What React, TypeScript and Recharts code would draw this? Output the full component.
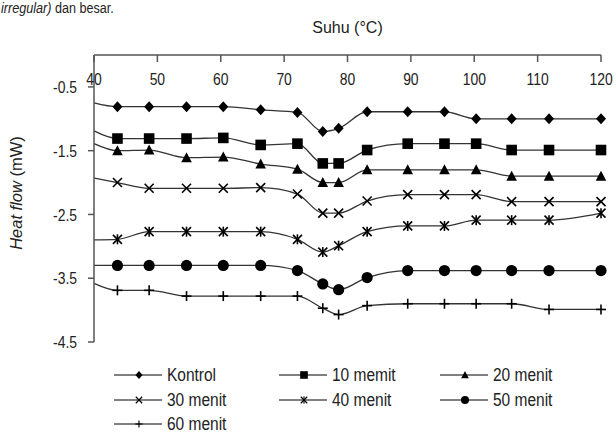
import React from "react";
import { LineChart, Line, XAxis, YAxis, Label } from "recharts";

// Suhu (°C) – posisi titik pengukuran
const temps = [40, 43.7, 48.7, 54.6, 60.4, 66.3, 72.1, 76.1, 78.6, 83.1, 89.5, 95.3, 100.3, 105.9, 111.8, 120];

// Heat flow (mW) per perlakuan
const kontrol = [-0.75, -0.81, -0.81, -0.81, -0.81, -0.86, -0.9, -1.2, -1.15, -0.89, -0.89, -0.89, -1.0, -1.0, -1.0, -1.0];
const menit10 = [-1.19, -1.31, -1.31, -1.31, -1.3, -1.41, -1.39, -1.7, -1.7, -1.49, -1.39, -1.39, -1.39, -1.49, -1.49, -1.49];
const menit20 = [-1.39, -1.5, -1.49, -1.61, -1.6, -1.71, -1.79, -2.0, -2.0, -1.8, -1.8, -1.8, -1.8, -1.9, -1.9, -1.9];
const menit30 = [-1.93, -2.0, -2.09, -2.09, -2.09, -2.08, -2.18, -2.48, -2.48, -2.29, -2.19, -2.19, -2.19, -2.3, -2.3, -2.3];
const menit40 = [-2.9, -2.89, -2.77, -2.77, -2.77, -2.77, -2.89, -3.09, -2.99, -2.77, -2.68, -2.68, -2.59, -2.59, -2.59, -2.48];
const menit50 = [-3.3, -3.3, -3.3, -3.3, -3.3, -3.3, -3.38, -3.59, -3.68, -3.49, -3.38, -3.38, -3.38, -3.38, -3.38, -3.38];
const menit60 = [-3.58, -3.69, -3.69, -3.78, -3.78, -3.78, -3.78, -3.97, -4.07, -3.93, -3.9, -3.9, -3.9, -3.9, -3.99, -3.99];

const xTicks = [40, 50, 60, 70, 80, 90, 100, 110, 120];
const yTicks = [-4.5, -3.5, -2.5, -1.5, -0.5];

const seriesList = [
  { key: "kontrol", name: "Kontrol", values: kontrol, shape: "diamond" },
  { key: "m10", name: "10 memit", values: menit10, shape: "square" },
  { key: "m20", name: "20 menit", values: menit20, shape: "triangle" },
  { key: "m30", name: "30 menit", values: menit30, shape: "cross" },
  { key: "m40", name: "40 menit", values: menit40, shape: "star" },
  { key: "m50", name: "50 menit", values: menit50, shape: "circle" },
  { key: "m60", name: "60 menit", values: menit60, shape: "plus" },
];

const data = temps.map((t, i) => {
  const row: Record<string, number> = { t };
  seriesList.forEach((s) => (row[s.key] = s.values[i]));
  return row;
});

const FONT = "'Liberation Sans', Arial, sans-serif";
const INK = "#000";
const AXIS = "#555";
const TXT = "#222";
const NARROW = 0.82; // huruf agak sempit seperti Arial Narrow

function Marker({ shape, cx, cy, s = 1 }: { shape: string; cx: number; cy: number; s?: number }) {
  switch (shape) {
    case "diamond":
      return <polygon points={`${cx},${cy - 5.5 * s} ${cx + 5 * s},${cy} ${cx},${cy + 5.5 * s} ${cx - 5 * s},${cy}`} fill={INK} />;
    case "square":
      return <rect x={cx - 5.3 * s} y={cy - 5.3 * s} width={10.6 * s} height={10.6 * s} fill={INK} />;
    case "triangle":
      return <polygon points={`${cx},${cy - 5.5 * s} ${cx + 5.3 * s},${cy + 4.5 * s} ${cx - 5.3 * s},${cy + 4.5 * s}`} fill={INK} />;
    case "cross":
      return (
        <g stroke={INK} strokeWidth={1.6 * Math.max(s, 0.7)}>
          <line x1={cx - 4.5 * s} y1={cy - 4.5 * s} x2={cx + 4.5 * s} y2={cy + 4.5 * s} />
          <line x1={cx - 4.5 * s} y1={cy + 4.5 * s} x2={cx + 4.5 * s} y2={cy - 4.5 * s} />
        </g>
      );
    case "star":
      return (
        <g stroke={INK} strokeWidth={1.6 * Math.max(s, 0.7)}>
          <line x1={cx - 4.5 * s} y1={cy - 4.5 * s} x2={cx + 4.5 * s} y2={cy + 4.5 * s} />
          <line x1={cx - 4.5 * s} y1={cy + 4.5 * s} x2={cx + 4.5 * s} y2={cy - 4.5 * s} />
          <line x1={cx} y1={cy - 5 * s} x2={cx} y2={cy + 5 * s} />
        </g>
      );
    case "circle":
      return <circle cx={cx} cy={cy} r={5.6 * s} fill={INK} />;
    case "plus":
      return (
        <g stroke={INK} strokeWidth={1.6 * Math.max(s, 0.7)}>
          <line x1={cx - 5 * s} y1={cy} x2={cx + 5 * s} y2={cy} />
          <line x1={cx} y1={cy - 5 * s} x2={cx} y2={cy + 5 * s} />
        </g>
      );
  }
  return <g />;
}

const makeDot = (shape: string) => (props: any) => {
  const { cx, cy, index } = props;
  // titik pertama (40 °C) tanpa penanda
  if (index === 0 || cx == null) return <g key={`d-${shape}-${index}`} />;
  return (
    <g key={`d-${shape}-${index}`}>
      <Marker shape={shape} cx={cx} cy={cy} />
    </g>
  );
};

const XTick = (props: any) => {
  const { x, y, payload } = props;
  return (
    <text
      transform={`translate(${x},${y}) scale(${NARROW},1)`}
      textAnchor="middle"
      dy="0.71em"
      fontFamily={FONT}
      fontSize={17}
      fill={TXT}
    >
      {payload.value}
    </text>
  );
};

const YTick = (props: any) => {
  const { x, y, payload } = props;
  return (
    <text
      transform={`translate(${x},${y}) scale(${NARROW},1)`}
      textAnchor="end"
      dy="0.36em"
      fontFamily={FONT}
      fontSize={17}
      fill={TXT}
    >
      {Number(payload.value).toFixed(1)}
    </text>
  );
};

const TitleLabel = (props: any) => {
  const vb = props.viewBox || {};
  return (
    <text x={vb.x + vb.width / 2} y={33} textAnchor="middle" fontFamily={FONT} fontSize={16} fill={TXT}>
      Suhu (°C)
    </text>
  );
};

const YLabel = () => {
  const cy = 193;
  const cx = 22;
  return (
    <text
      x={cx}
      y={cy}
      textAnchor="middle"
      transform={`rotate(-90 ${cx} ${cy})`}
      fontFamily={FONT}
      fontSize={16.5}
      fill={TXT}
    >
      <tspan fontStyle="italic">Heat flow</tspan>
      <tspan> (mW)</tspan>
    </text>
  );
};

function LegendBox() {
  const cols = [114, 279, 440];
  return (
    <div style={{ position: "absolute", left: 0, top: 363, width: 616, fontFamily: FONT, fontSize: 18, color: TXT }}>
      {seriesList.map((s, i) => {
        const col = i % 3;
        const row = Math.floor(i / 3);
        return (
          <div
            key={s.key}
            style={{ position: "absolute", left: cols[col], top: row * 24.5, height: 24.5, display: "flex", alignItems: "center" }}
          >
            <svg width={48} height={14} style={{ display: "block" }}>
              <line x1={0} y1={7} x2={48} y2={7} stroke={INK} strokeWidth={1} />
              <Marker shape={s.shape} cx={25} cy={7} s={0.72} />
            </svg>
            <span
              style={{
                marginLeft: 5,
                whiteSpace: "nowrap",
                display: "inline-block",
                transform: "scaleX(0.86)",
                transformOrigin: "left center",
                lineHeight: "20px",
              }}
            >
              {s.name}
            </span>
          </div>
        );
      })}
    </div>
  );
}

export default function App() {
  return (
    <div style={{ position: "absolute", left: 0, top: 0, width: 616, height: 433, background: "#fff", overflow: "hidden" }}>
      <div
        style={{
          position: "absolute",
          left: 1,
          top: 0,
          fontFamily: FONT,
          fontSize: 14,
          lineHeight: "16px",
          color: TXT,
          whiteSpace: "nowrap",
          transform: "scaleX(0.9)",
          transformOrigin: "left top",
        }}
      >
        <i>irregular)</i> dan besar.
      </div>
      <LineChart width={616} height={433} data={data} margin={{ top: 55, right: 15, left: 34, bottom: 91 }}>
        <XAxis
          dataKey="t"
          type="number"
          orientation="top"
          mirror
          domain={[40, 120]}
          ticks={xTicks}
          interval={0}
          tickSize={7}
          tickMargin={11}
          stroke={AXIS}
          strokeWidth={1.5}
          tick={<XTick />}
        >
          <Label content={TitleLabel} />
        </XAxis>
        <YAxis
          type="number"
          domain={[-4.5, 0]}
          ticks={yTicks}
          interval={0}
          width={60}
          tickSize={6}
          tickMargin={11}
          stroke={AXIS}
          strokeWidth={1.5}
          tick={<YTick />}
        >
          <Label content={YLabel} />
        </YAxis>
        {seriesList.map((s) => (
          <Line
            key={s.key}
            dataKey={s.key}
            name={s.name}
            type="monotone"
            stroke="#333"
            strokeWidth={1.3}
            dot={makeDot(s.shape)}
            activeDot={false}
            isAnimationActive={false}
          />
        ))}
      </LineChart>
      <LegendBox />
    </div>
  );
}
